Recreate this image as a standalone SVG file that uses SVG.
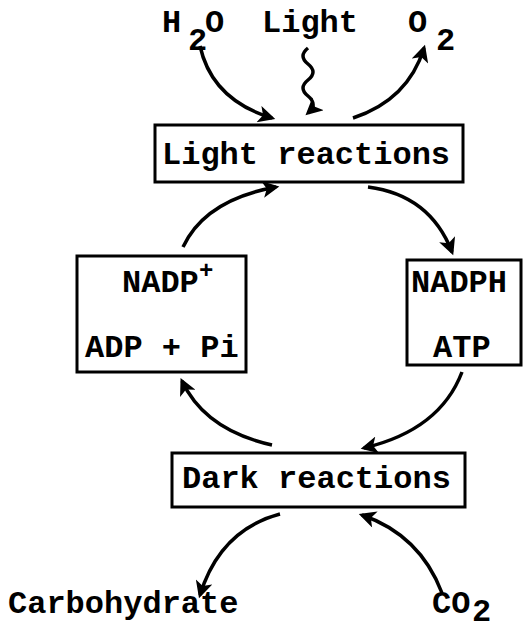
<svg xmlns="http://www.w3.org/2000/svg" width="532" height="630" viewBox="0 0 532 630">
<style>
text{font-family:"Liberation Mono","Courier New",monospace;font-size:32px;font-weight:bold;fill:#000}
.box{fill:#fff;stroke:#000;stroke-width:3}
.c{fill:none;stroke:#000;stroke-width:3.5}
</style>
<defs>
<marker id="ah" viewBox="0 0 10 10" refX="8" refY="5" markerUnits="userSpaceOnUse" markerWidth="19" markerHeight="17" orient="auto">
<path d="M0,0 L10,5 L0,10 L2.5,5 z" fill="#000"/>
</marker>
</defs>
<rect width="532" height="630" fill="#fff"/>
<g id="h2o"><text x="162" y="32">H</text><text x="188" y="50">2</text><text x="205" y="32">O</text></g>
<g id="light"><text x="262" y="32">Light</text></g>
<g id="o2"><text x="408" y="32">O</text><text x="436" y="50">2</text></g>
<g id="light-reactions"><rect class="box" x="155" y="125" width="308" height="57"/><text x="162" y="164">Light reactions</text></g>
<g id="nadp"><rect class="box" x="77" y="256" width="169" height="116"/><text x="122" y="292">NADP</text><text x="199" y="278" style="font-size:24px">+</text><text x="85" y="357">ADP + Pi</text></g>
<g id="nadph"><rect class="box" x="407" y="260" width="114" height="105"/><text x="411" y="292">NADPH</text><text x="433" y="357">ATP</text></g>
<g id="dark-reactions"><rect class="box" x="172" y="453" width="293" height="54"/><text x="182" y="488">Dark reactions</text></g>
<g id="carbohydrate"><text x="8" y="613">Carbohydrate</text></g>
<g id="co2"><text x="432" y="613">CO</text><text x="472" y="621">2</text></g>
<g id="connectors">
<path class="c" d="M200,46 Q212,100 272,118" marker-end="url(#ah)"/>
<path class="c" d="M308,48 q-10,8 0,16 t0,16 t0,16 t0,17" marker-end="url(#ah)"/>
<path class="c" d="M353,118 Q408,100 424,48" marker-end="url(#ah)"/>
<path class="c" d="M183,247 Q205,200 276,187" marker-end="url(#ah)"/>
<path class="c" d="M368,187 Q430,195 452,252" marker-end="url(#ah)"/>
<path class="c" d="M462,372 Q440,430 364,448" marker-end="url(#ah)"/>
<path class="c" d="M272,445 Q205,430 182,381" marker-end="url(#ah)"/>
<path class="c" d="M280,514 Q220,530 200,595" marker-end="url(#ah)"/>
<path class="c" d="M442,593 Q420,535 362,515" marker-end="url(#ah)"/>
</g>
</svg>
